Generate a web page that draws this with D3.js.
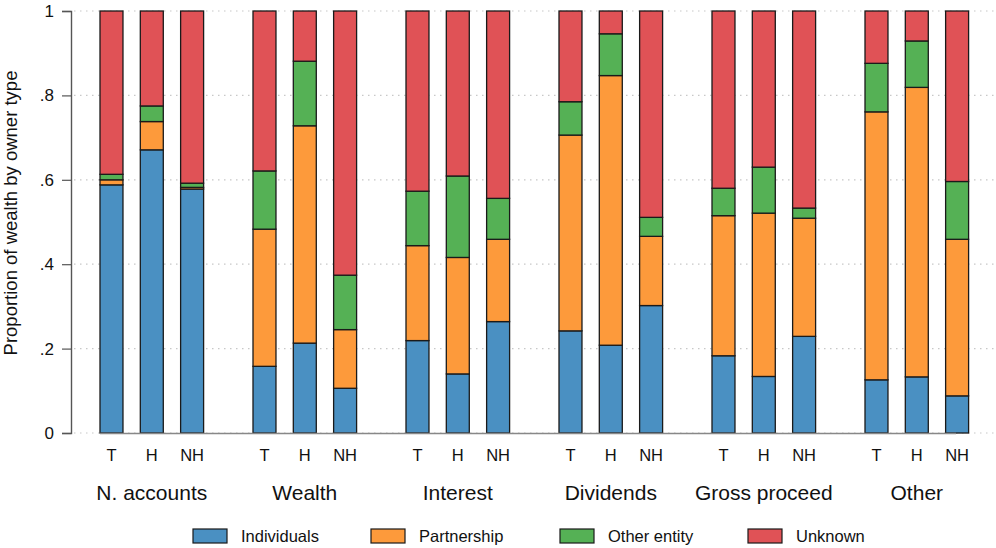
<!DOCTYPE html>
<html>
<head>
<meta charset="utf-8">
<script src="https://cdn.jsdelivr.net/npm/d3@7"></script>
<style>
  body { margin: 0; background: #fff; }
  svg { display: block; font-family: "Liberation Sans", Arial, sans-serif; }
</style>
</head>
<body>
<svg id="chart" width="996" height="548"></svg>
<script>
const groups = ['N. accounts', 'Wealth', 'Interest', 'Dividends', 'Gross proceed', 'Other'];
const subgroups = ['T', 'H', 'NH'];
const seriesNames = ['Individuals', 'Partnership', 'Other entity', 'Unknown'];
const seriesColors = ['#4a90c2', '#fd9a3b', '#55b155', '#e05256'];
const yTicks = [0, 0.2, 0.4, 0.6, 0.8, 1];
const yTickLabels = ['0', '.2', '.4', '.6', '.8', '1'];

// shares, ordered group by group, T/H/NH inside each
const individuals = [.588, .671, .578, .158, .213, .106, .219, .140, .264, .242, .208, .302, .183, .134, .229, .126, .133, .088];
const partnership = [.012, .067, .004, .325, .515, .139, .225, .276, .195, .464, .639, .164, .332, .387, .280, .635, .686, .371];
const otherEntity = [.013, .037, .010, .138, .153, .129, .129, .193, .097, .079, .099, .045, .065, .109, .024, .115, .110, .137];
const unknown     = [.387, .225, .408, .379, .119, .626, .427, .391, .444, .215, .054, .489, .420, .370, .467, .124, .071, .404];

const rows = [];
groups.forEach((g, gi) => subgroups.forEach((s, si) => {
    const i = gi * 3 + si;
    rows.push({ group: g, sub: s, Individuals: individuals[i], Partnership: partnership[i], 'Other entity': otherEntity[i], Unknown: unknown[i] });
}));

const svg = d3.select('#chart');
const margin = { left: 71, top: 11, bottom: 433 };

const x0 = d3.scaleBand().domain(groups).range([80, 998]);
const x1 = d3.scaleBand().domain(subgroups).range([20, 123.6]).paddingInner(0.43).paddingOuter(0);
const y = d3.scaleLinear().domain([0, 1]).range([margin.bottom, margin.top]);

// dotted grid
svg.append('g').selectAll('line').data(yTicks).join('line')
    .attr('x1', 74).attr('x2', 996)
    .attr('y1', d => y(d)).attr('y2', d => y(d))
    .attr('stroke', '#c8c8c8').attr('stroke-width', 1.2)
    .attr('stroke-dasharray', '1.5,4.5');

// y axis
const yAxis = svg.append('g').attr('transform', `translate(${margin.left},0)`)
    .call(d3.axisLeft(y).tickValues(yTicks).tickFormat((d, i) => yTickLabels[i]).tickSize(9).tickPadding(8));
yAxis.select('.domain').attr('stroke', '#555').attr('stroke-width', 1.4);
yAxis.selectAll('.tick line').attr('stroke', '#555').attr('stroke-width', 1.2);
yAxis.selectAll('.tick text').attr('font-size', 17).attr('fill', '#111').attr('font-family', '"Liberation Sans", Arial, sans-serif');

svg.append('text')
    .attr('transform', 'translate(17,213) rotate(-90)')
    .attr('text-anchor', 'middle')
    .attr('font-size', 18.5).attr('fill', '#111')
    .text('Proportion of wealth by owner type');

// stacked bars
const stack = d3.stack().keys(seriesNames)(rows);
const layers = svg.append('g').selectAll('g').data(stack).join('g')
    .attr('fill', (d, i) => seriesColors[i]);
layers.selectAll('rect').data(d => d).join('rect')
    .attr('x', d => x0(d.data.group) + x1(d.data.sub))
    .attr('width', x1.bandwidth())
    .attr('y', d => y(d[1]))
    .attr('height', d => y(d[0]) - y(d[1]))
    .attr('stroke', '#1a1a1a').attr('stroke-width', 1.3);

// base line
svg.append('line')
    .attr('x1', x0(groups[0]) + x1('T')).attr('x2', 956)
    .attr('y1', y(0) + 0.5).attr('y2', y(0) + 0.5)
    .attr('stroke', '#888').attr('stroke-width', 1.4);

// sub labels
svg.append('g').selectAll('text').data(rows).join('text')
    .attr('x', d => x0(d.group) + x1(d.sub) + x1.bandwidth() / 2)
    .attr('y', 461)
    .attr('text-anchor', 'middle')
    .attr('font-size', 16.5).attr('fill', '#111')
    .text(d => d.sub);

// group labels
svg.append('g').selectAll('text').data(groups).join('text')
    .attr('x', d => x0(d) + x1('H') + x1.bandwidth() / 2)
    .attr('y', 500)
    .attr('text-anchor', 'middle')
    .attr('font-size', 21).attr('fill', '#111')
    .text(d => d);

// legend
const legendX = [193, 371, 560, 748];
const legend = svg.append('g').selectAll('g').data(seriesNames).join('g')
    .attr('transform', (d, i) => `translate(${legendX[i]},529)`);
legend.append('rect')
    .attr('width', 34).attr('height', 14)
    .attr('fill', (d, i) => seriesColors[i])
    .attr('stroke', '#1a1a1a').attr('stroke-width', 1.2);
legend.append('text')
    .attr('x', 48).attr('y', 13)
    .attr('font-size', 16.5).attr('fill', '#111')
    .text(d => d);
</script>
</body>
</html>
